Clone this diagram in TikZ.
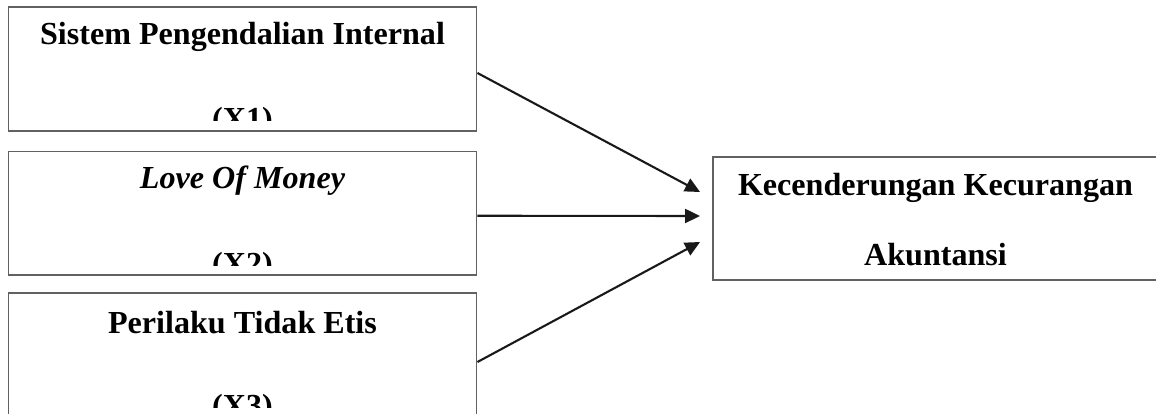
\documentclass[tikz,border=0pt]{standalone}
\usepackage{fontspec}
\setmainfont{Liberation Serif}
\usetikzlibrary{arrows.meta}
\begin{document}
\begin{tikzpicture}[x=1pt,y=-1pt,
  varbox/.style={draw=black!62, line width=1.9pt, rectangle, inner sep=0pt, fill=none},
  label/.style={font=\fontsize{32.1}{32}\selectfont\bfseries, anchor=base, inner sep=0pt},
  link/.style={line width=2.1pt, black!90, -{Triangle[length=15pt,width=14pt]}}]
  \useasboundingbox (0,0) rectangle (1156,414);

  % independent variables
  \node[varbox, minimum width=468pt, minimum height=124pt] (b1) at (242.5,69) {};
  \node[varbox, minimum width=468pt, minimum height=123.5pt] (b2) at (242.5,213.25) {};
  \node[varbox, minimum width=468pt, minimum height=124pt] (b3) at (242.5,355) {};

  % dependent variable (runs past the right edge of the page)
  \node[varbox, minimum width=451pt, minimum height=123pt] (k) at (938.5,218.5) {};

  % box captions
  \node[label] (t1) at (242.5,45) {Sistem Pengendalian Internal};
  \node[label] (t2) at (242.5,189) {\itshape Love Of Money};
  \node[label] (t3) at (242.5,333) {Perilaku Tidak Etis};
  \node[label] (k1) at (935.5,196) {Kecenderungan Kecurangan};
  \node[label] (k2) at (935.5,265) {Akuntansi};

  % variable codes, cut off by the lower edge of each box text area
  \begin{scope}
    \clip (10,105) rectangle (475,121);
    \node[label] (x1) at (242.5,130) {(X1)};
  \end{scope}
  \begin{scope}
    \clip (10,245) rectangle (475,265);
    \node[label] (x2) at (242.5,274) {(X2)};
  \end{scope}
  \begin{scope}
    \clip (10,385) rectangle (475,407);
    \node[label] (x3) at (242.5,416) {(X3)};
  \end{scope}

  % influence arrows
  \draw[link] ([yshift=-4pt]b1.east) -- ([xshift=-12pt,yshift=26.5pt]k.west);
  \draw[link] ([yshift=-2.5pt]b2.east) -- ([xshift=-12pt,yshift=2.5pt]k.west);
  \draw[link] ([yshift=-7pt]b3.east) -- ([xshift=-12pt,yshift=-23.5pt]k.west);
\end{tikzpicture}
\end{document}
